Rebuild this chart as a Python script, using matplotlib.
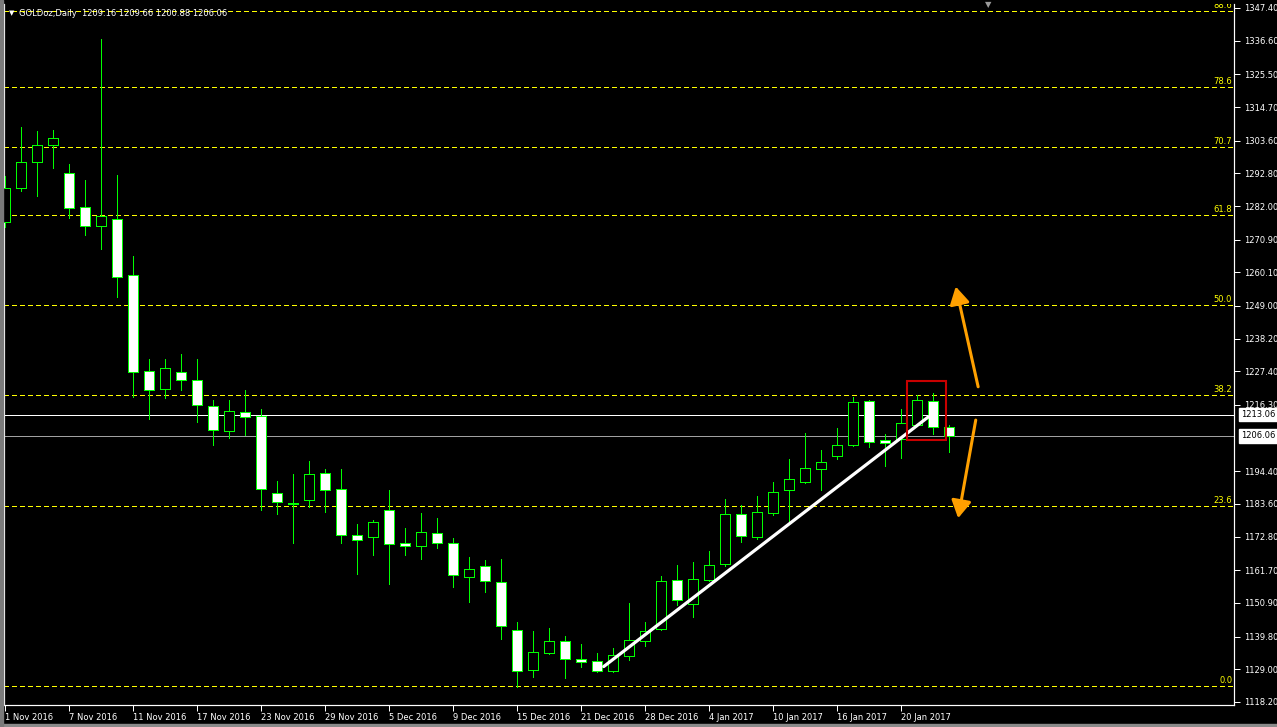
import pandas as pd
import matplotlib
matplotlib.use("Agg")
import matplotlib.pyplot as plt
from matplotlib.patches import Rectangle, FancyArrowPatch
from matplotlib.transforms import blended_transform_factory

# Daily bars, 1 Nov 2016 - 25 Jan 2017 (no bars on 26 Dec and 2 Jan)
dates = pd.bdate_range("2016-11-01", "2017-01-25")
dates = dates.drop(pd.to_datetime(["2016-12-26", "2017-01-02"]))

opens = [1276.6, 1287.9, 1296.4, 1302.1, 1292.8, 1281.6, 1275.3, 1277.6, 1259.1, 1227.4,
         1221.7, 1227.1, 1224.4, 1215.9, 1207.6, 1213.9, 1212.6, 1187.1, 1183.8, 1184.8,
         1193.7, 1188.4, 1173.3, 1172.6, 1181.5, 1170.6, 1169.6, 1173.9, 1170.6, 1159.4,
         1163.0, 1157.7, 1141.9, 1128.7, 1134.3, 1138.2, 1132.3, 1131.6, 1128.3, 1133.3,
         1138.2, 1142.2, 1158.4, 1150.5, 1158.4, 1163.7, 1180.2, 1172.6, 1180.5, 1188.1,
         1190.8, 1195.1, 1199.3, 1203.0, 1217.7, 1204.6, 1205.0, 1209.6, 1217.7, 1209.16]
highs = [1291.9, 1308.1, 1306.8, 1307.1, 1295.9, 1290.6, 1337.2, 1292.2, 1265.5, 1231.5,
         1231.5, 1233.1, 1231.5, 1217.9, 1217.9, 1221.2, 1215.0, 1191.2, 1193.4, 1197.8,
         1195.2, 1195.2, 1177.0, 1178.3, 1188.2, 1175.7, 1180.6, 1179.0, 1172.4, 1166.0,
         1165.0, 1165.3, 1144.5, 1141.5, 1142.5, 1139.9, 1137.4, 1134.4, 1135.9, 1150.8,
         1144.5, 1159.8, 1163.3, 1164.3, 1168.0, 1185.1, 1183.2, 1186.2, 1190.8, 1198.4,
         1206.9, 1201.3, 1208.6, 1218.8, 1217.9, 1206.6, 1214.9, 1219.5, 1220.2, 1209.66]
lows = [1275.2, 1287.1, 1285.4, 1294.7, 1278.1, 1272.4, 1267.9, 1252.1, 1219.0, 1211.6,
        1218.7, 1221.3, 1210.8, 1203.1, 1205.5, 1206.3, 1181.7, 1180.4, 1170.8, 1182.7,
        1181.1, 1170.8, 1160.6, 1166.9, 1157.3, 1166.9, 1165.5, 1169.2, 1156.3, 1151.3,
        1154.6, 1139.1, 1123.2, 1126.6, 1134.0, 1126.0, 1129.7, 1128.0, 1128.2, 1132.0,
        1136.6, 1142.0, 1150.1, 1146.2, 1158.1, 1163.0, 1170.9, 1171.9, 1179.9, 1177.2,
        1190.4, 1188.1, 1198.4, 1202.6, 1202.3, 1196.0, 1198.7, 1209.4, 1206.6, 1200.88]
closes = [1287.9, 1296.4, 1302.1, 1304.4, 1281.3, 1275.3, 1278.6, 1258.7, 1227.3, 1221.1,
          1228.4, 1224.4, 1216.2, 1207.9, 1214.2, 1212.2, 1188.4, 1184.2, 1183.5, 1193.4,
          1188.1, 1173.3, 1171.6, 1177.6, 1170.3, 1169.6, 1174.2, 1170.6, 1160.0, 1162.0,
          1158.1, 1143.2, 1128.3, 1134.6, 1138.2, 1132.3, 1131.3, 1128.3, 1133.6, 1138.6,
          1141.5, 1158.1, 1151.8, 1158.7, 1163.3, 1180.2, 1172.9, 1180.9, 1187.5, 1191.8,
          1195.4, 1197.4, 1203.0, 1217.2, 1204.0, 1203.6, 1210.2, 1217.8, 1208.9, 1206.06]

date_labels = ["1 Nov 2016", "7 Nov 2016", "11 Nov 2016", "17 Nov 2016", "23 Nov 2016",
               "29 Nov 2016", "5 Dec 2016", "9 Dec 2016", "15 Dec 2016", "21 Dec 2016",
               "28 Dec 2016", "4 Jan 2017", "10 Jan 2017", "16 Jan 2017", "20 Jan 2017"]
price_ticks = [1347.40, 1336.60, 1325.50, 1314.70, 1303.60, 1292.80, 1282.00, 1270.90,
               1260.10, 1249.00, 1238.20, 1227.40, 1216.30, 1194.40, 1183.60, 1172.80,
               1161.70, 1150.90, 1139.80, 1129.00, 1118.20]

# fibonacci retracement
fib_levels = [0.0, 23.6, 38.2, 50.0, 61.8, 70.7, 78.6, 88.6]
fib_low, fib_high = 1123.4, 1375.1

hline_price = 1213.06
bid_price = 1206.06
trend_x, trend_y = [37.4, 57.7], [1129.9, 1212.4]
box_x, box_y = [56.34, 58.79], [1204.6, 1224.3]
arrow_up = [(60.8, 1222.3), (59.4, 1255.4)]
arrow_down = [(60.65, 1211.3), (59.55, 1178.9)]

green = "#00FF00"
yellow = "#FFFF00"
W, H = 1277, 727
px = 0.72  # one pixel in points

fig = plt.figure(figsize=(W / 100, H / 100), dpi=100, facecolor="black")
ax = fig.add_axes([4 / W, 22 / H, 1230 / W, 701 / H], facecolor="black")
ax.set_xlim(-0.08, 76.79)
ax.set_ylim(1117.2, 1348.72)

# window frame bits
fig.patches.append(Rectangle((0, 0), 1, 3 / H, transform=fig.transFigure, color="#8a8a8a"))
fig.patches.append(Rectangle((0, 0), 2.5 / W, 1, transform=fig.transFigure, color="#7a7a7a"))

# candles
for i in range(len(dates)):
    o, h, l, c = opens[i], highs[i], lows[i], closes[i]
    ax.vlines(i, l, h, color=green, lw=px, zorder=3, antialiased=False)
    fc = "black" if c > o else "white"
    ax.add_patch(Rectangle((i - 0.31, min(o, c)), 0.62, max(abs(c - o), 0.3),
                           fc=fc, ec=green, lw=px, zorder=4, antialiased=False))

# fib levels
tr = blended_transform_factory(ax.transAxes, ax.transData)
for lev in fib_levels:
    p = fib_low + (fib_high - fib_low) * lev / 100
    ax.axhline(p, color=yellow, lw=px, ls=(0, (5, 3)), zorder=2, antialiased=False)
    ax.text(0.9985, p + 0.4, f"{lev:.1f}", transform=tr, ha="right", va="bottom",
            color=yellow, fontsize=6, zorder=2, clip_on=True)

# horizontal line and bid line
ax.axhline(hline_price, color="white", lw=px, zorder=2, antialiased=False)
ax.axhline(bid_price, color="#a0a0a0", lw=px, zorder=2, antialiased=False)

# trendline, box and arrows
ax.plot(trend_x, trend_y, color="white", lw=2.3, solid_capstyle="round", zorder=6)
ax.add_patch(Rectangle((box_x[0], box_y[0]), box_x[1] - box_x[0], box_y[1] - box_y[0],
                       fill=False, ec="#C80000", lw=1.5, zorder=7))
for tail, tip in [arrow_up, arrow_down]:
    ax.add_patch(FancyArrowPatch(tail, tip, arrowstyle="-|>,head_length=0.7,head_width=0.4",
                                 mutation_scale=15, color="#FFA000", lw=2.2,
                                 shrinkA=0, shrinkB=0, zorder=7))

# axes
for s in ["left", "bottom", "right"]:
    ax.spines[s].set_color("white")
    ax.spines[s].set_linewidth(px * 1.2)
ax.spines["top"].set_visible(False)

ax.yaxis.tick_right()
ax.set_yticks(price_ticks)
ax.set_yticklabels([f"{v:.2f}" for v in price_ticks])
ax.tick_params(axis="y", colors="white", labelsize=6, length=4, width=px, pad=3)

label_dates = [d.strftime("%-d %b %Y") for d in dates]
xt = [label_dates.index(lbl) for lbl in date_labels]
ax.set_xticks(xt)
ax.set_xticklabels(date_labels, ha="left")
ax.tick_params(axis="x", colors="white", labelsize=6, length=4, width=px, pad=2)

# price tags on the scale
for v in [hline_price, bid_price]:
    ax.annotate(f"{v:.2f}", xy=(1, v), xycoords=tr, xytext=(7, 0), textcoords="offset pixels",
                ha="left", va="center", fontsize=6, color="black", annotation_clip=False,
                bbox=dict(boxstyle="square,pad=0.25", fc="white", ec="white"))

# header
fig.text(9 / W, 1 - 13 / H, "\u25bc", color="white", fontsize=5, va="center")
fig.text(19 / W, 1 - 13 / H,
         f"GOLDoz,Daily  {opens[-1]:.2f} {highs[-1]:.2f} {lows[-1]:.2f} {closes[-1]:.2f}",
         color="white", fontsize=6, va="center")
fig.text(988 / W, 1 - 5 / H, "\u25bc", color="#9a9a9a", fontsize=6, ha="center", va="center")

fig.savefig("out.png", dpi=100, facecolor="black")
